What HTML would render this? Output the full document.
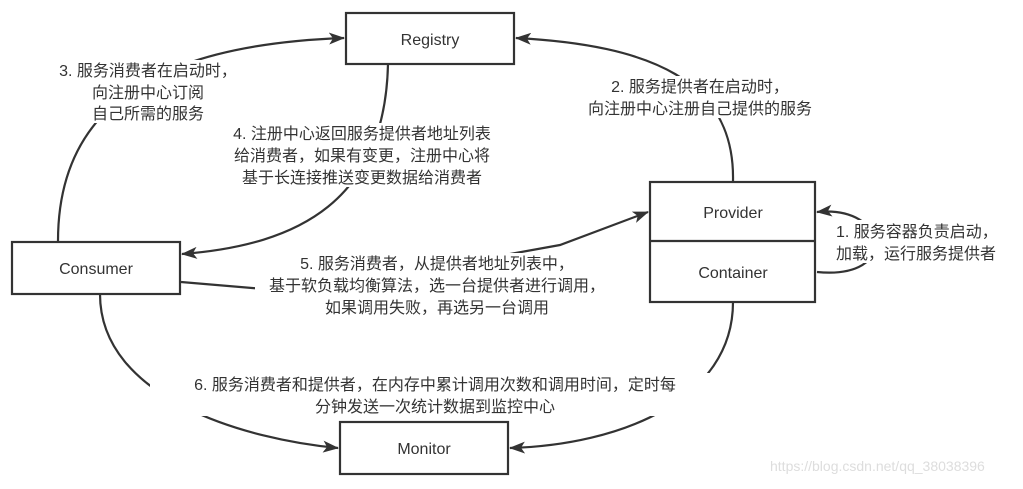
<!DOCTYPE html>
<html><head><meta charset="utf-8"><style>
body{margin:0;background:#fff;}
svg text{font-family:"Liberation Sans","Noto Sans CJK SC",sans-serif;font-size:16px;fill:#333;}
</style></head><body>
<svg width="1023" height="484" viewBox="0 0 1023 484" xmlns="http://www.w3.org/2000/svg">
<defs><marker id="a" markerWidth="16" markerHeight="12" refX="15" refY="6" orient="auto" markerUnits="userSpaceOnUse"><path d="M0,0 L16,6 L0,12 L4,6 z" fill="#333"/></marker></defs>
<g fill="none" stroke="#333" stroke-width="2.2">
<path d="M58 241 C 58 110, 150 45, 344 38" marker-end="url(#a)"/>
<path d="M388 64 C 385 200, 300 245, 182 254" marker-end="url(#a)"/>
<path d="M733 181 C 735 80, 650 45, 516 38" marker-end="url(#a)"/>
<path d="M181 282 L 300 292 L 560 245 L 648 212" marker-end="url(#a)"/>
<path d="M817 272 C 900 280, 890 205, 817 212" marker-end="url(#a)"/>
<path d="M100 294 C 100 400, 250 440, 338 448" marker-end="url(#a)"/>
<path d="M733 302 C 733 400, 620 445, 510 448" marker-end="url(#a)"/>
</g>
<g fill="#fff">
<rect x="50" y="60" width="195" height="63"/>
<rect x="572" y="76" width="258" height="42"/>
<rect x="222" y="123" width="280" height="64"/>
<rect x="255" y="253" width="367" height="64"/>
<rect x="832" y="220" width="183" height="43"/>
<rect x="150" y="373" width="570" height="43"/>
</g>
<g fill="#fff" stroke="#333" stroke-width="2.2">
<rect x="346" y="13" width="168" height="51"/>
<rect x="12" y="242" width="168" height="52"/>
<rect x="650" y="182" width="165" height="120"/>
<line x1="650" y1="241" x2="815" y2="241"/>
<rect x="340" y="422" width="168" height="52"/>
</g>
<g text-anchor="middle">
<text x="430" y="45">Registry</text>
<text x="96" y="274">Consumer</text>
<text x="733" y="218">Provider</text>
<text x="733" y="278">Container</text>
<text x="424" y="454">Monitor</text>
<text x="148" y="76">3. 服务消费者在启动时，</text>
<text x="148" y="98">向注册中心订阅</text>
<text x="148" y="119">自己所需的服务</text>
<text x="700" y="92">2. 服务提供者在启动时，</text>
<text x="700" y="114">向注册中心注册自己提供的服务</text>
<text x="362" y="139">4. 注册中心返回服务提供者地址列表</text>
<text x="362" y="161">给消费者，如果有变更，注册中心将</text>
<text x="362" y="183">基于长连接推送变更数据给消费者</text>
<text x="437" y="269">5. 服务消费者，从提供者地址列表中，</text>
<text x="437" y="291">基于软负载均衡算法，选一台提供者进行调用，</text>
<text x="437" y="313">如果调用失败，再选另一台调用</text>
<text x="435" y="390">6. 服务消费者和提供者，在内存中累计调用次数和调用时间，定时每</text>
<text x="435" y="412">分钟发送一次统计数据到监控中心</text>
</g>
<text x="836" y="237">1. 服务容器负责启动，</text>
<text x="836" y="259">加载，运行服务提供者</text>
<text x="770" y="471" style="font-size:14px;fill:#ddd">https://blog.csdn.net/qq_38038396</text>
</svg>
</body></html>
